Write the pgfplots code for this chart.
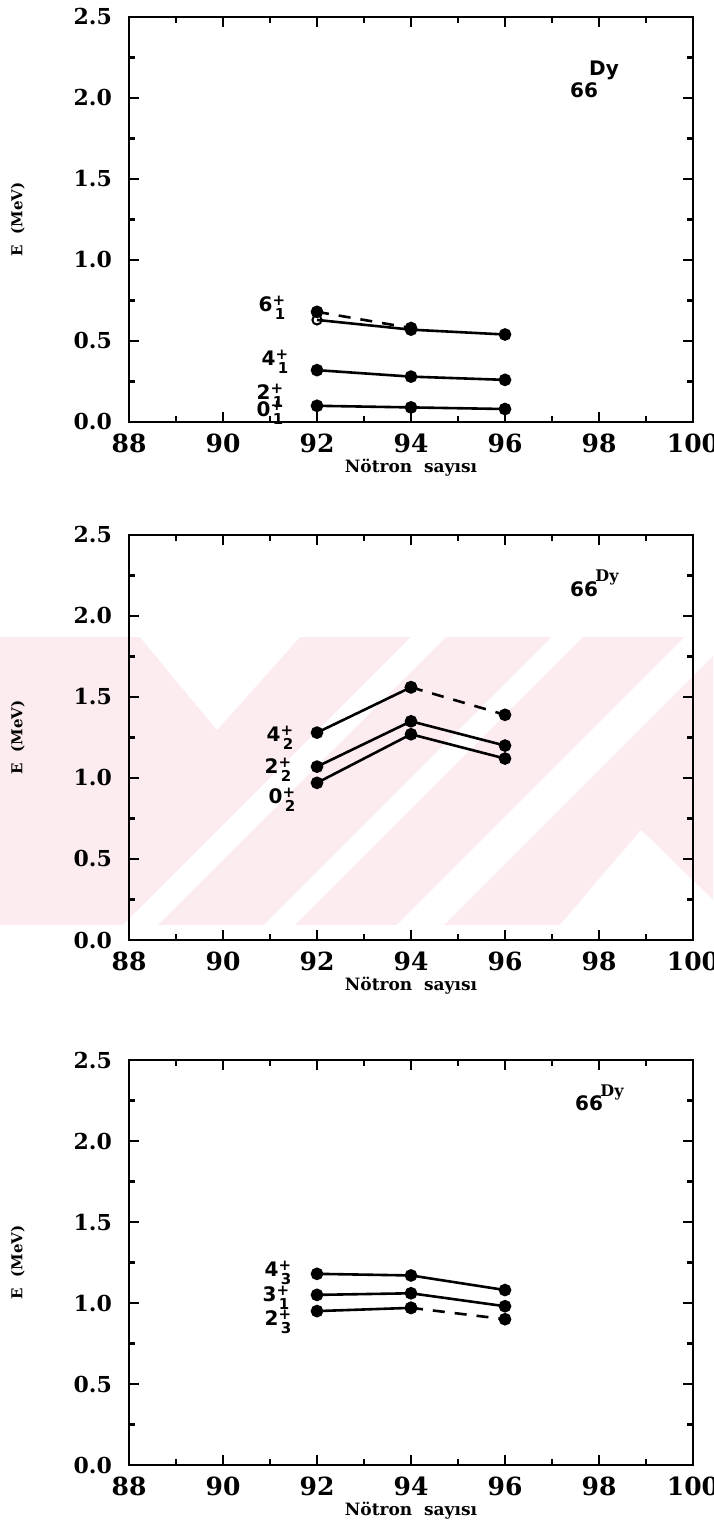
\documentclass[border=0pt]{standalone}
\usepackage{pgfplots}
\pgfplotsset{compat=1.18}
\usepackage{fontspec}
\setmainfont{DejaVu Serif}
\newfontfamily\lblfont{DejaVu Sans}

\definecolor{wmpink}{RGB}{253,236,239}

% energy level label: spin, parity superscript and index subscript stacked
\newcommand{\lev}[2]{#1\raisebox{0.55ex}{\rlap{\fontsize{7.5}{8}\selectfont +}}\raisebox{-0.75ex}{\hspace{0.12em}\fontsize{7.5}{8}\selectfont #2}}

\pgfplotsset{
  levelaxis/.style={
    scale only axis,
    width=282pt, height=202.5pt,
    xmin=88, xmax=100, ymin=0, ymax=2.5,
    xtick={88,90,...,100}, ytick={0,0.5,...,2.5},
    minor x tick num=1, minor y tick num=1,
    tick align=inside,
    major tick length=5pt, minor tick length=3pt,
    axis line style={line width=1.4pt},
    every tick/.style={line width=1.2pt, black},
    /pgf/number format/assume math mode=true,
    x tick label style={font=\fontsize{12.5}{13}\selectfont\bfseries, yshift=-2.5pt},
    y tick label style={font=\fontsize{11}{12}\selectfont\bfseries, xshift=-5pt,
      /pgf/number format/.cd, fixed, fixed zerofill, precision=1},
    xlabel={N\"otron\ \ say\i s\i},
    xlabel style={font=\fontsize{8.5}{9}\selectfont\bfseries, at={(rel axis cs:0.5,-0.112)}, anchor=center},
    ylabel={E\ \ (MeV)},
    ylabel style={font=\fontsize{7.5}{8}\selectfont\bfseries, at={(rel axis cs:-0.197,0.5)}, anchor=center},
    clip=false,
  },
  lvl/.style={black, line width=1.3pt, mark=*, mark size=2.5pt, mark options={solid}},
  lvldash/.style={black, line width=1.3pt, dashed, dash pattern=on 6pt off 5pt, mark=*, mark size=2.5pt, mark options={solid}},
}

\begin{document}
\begin{tikzpicture}
\path[use as bounding box] (0,0) rectangle (356.5pt,768pt);

% faint background pattern behind the middle panel
\begin{scope}[x=0.5pt, y=-0.5pt, shift={(0,768pt)}]
  \fill[wmpink] (0,637) rectangle (713,925);
  \fill[white] (140,637) -- (300,637) -- (217,730) -- cycle;
  \fill[white] (411,637) -- (446,637) -- (158,925) -- (123,925) -- cycle;
  \fill[white] (552,637) -- (583,637) -- (295,925) -- (264,925) -- cycle;
  \fill[white] (685,637) -- (732,637) -- (444,925) -- (397,925) -- cycle;
  \fill[white] (641,830) -- (713,900) -- (713,925) -- (560,925) -- cycle;
\end{scope}

% ---- ground band ----
\begin{axis}[levelaxis, at={(64.5pt,557pt)}, anchor=south west]
  \addplot[lvldash] coordinates {(92,0.68) (94,0.58)};
  \addplot[lvl] coordinates {(94,0.57) (96,0.54)};
  \addplot[black, line width=1.3pt, mark=none] coordinates {(92,0.63) (94,0.57)};
  \addplot[black, line width=1.0pt, only marks, mark=o, mark size=2.3pt, fill=white] coordinates {(92,0.63)};
  \addplot[lvl] coordinates {(92,0.32) (94,0.28) (96,0.26)};
  \addplot[lvl] coordinates {(92,0.10) (94,0.09) (96,0.08)};
  \addplot[black, line width=1.3pt, mark=none] coordinates {(92,0.0) (94,0.0) (96,0.0)};
\end{axis}

% ---- beta band ----
\begin{axis}[levelaxis, at={(64.5pt,298pt)}, anchor=south west]
  \addplot[lvl] coordinates {(92,1.28) (94,1.56)};
  \addplot[lvldash] coordinates {(94,1.56) (96,1.39)};
  \addplot[lvl] coordinates {(92,1.07) (94,1.35) (96,1.20)};
  \addplot[lvl] coordinates {(92,0.97) (94,1.27) (96,1.12)};
\end{axis}

% ---- gamma band ----
\begin{axis}[levelaxis, at={(64.5pt,35.5pt)}, anchor=south west]
  \addplot[lvl] coordinates {(92,1.18) (94,1.17) (96,1.08)};
  \addplot[lvl] coordinates {(92,1.05) (94,1.06) (96,0.98)};
  \addplot[lvl] coordinates {(92,0.95) (94,0.97)};
  \addplot[lvldash] coordinates {(94,0.97) (96,0.90)};
\end{axis}

% level labels (positions in half-points from the top-left corner)
\begin{scope}[x=0.5pt, y=-0.5pt, shift={(0,768pt)}, every node/.style={font=\lblfont\bfseries\fontsize{10}{11}\selectfont, inner sep=0pt}]
  \node at (272,308) {\lev{6}{1}};
  \node at (275,362) {\lev{4}{1}};
  \node at (270,396) {\lev{2}{1}};
  \node at (270,413) {\lev{0}{1}};
  \node at (280,738) {\lev{4}{2}};
  \node at (278,770) {\lev{2}{2}};
  \node at (282,800) {\lev{0}{2}};
  \node at (278,1273) {\lev{4}{3}};
  \node at (276,1298) {\lev{3}{1}};
  \node at (278,1322) {\lev{2}{3}};
  % nucleus labels
  \node at (604,70) {Dy};
  \node at (584,90) {66};
  \node at (584,589) {66};
  \node[font=\rmfamily\bfseries\fontsize{8}{9}\selectfont] at (607,577) {Dy};
  \node at (589,1103) {66};
  \node[font=\rmfamily\bfseries\fontsize{8}{9}\selectfont] at (612,1092) {Dy};
\end{scope}
\end{tikzpicture}
\end{document}
